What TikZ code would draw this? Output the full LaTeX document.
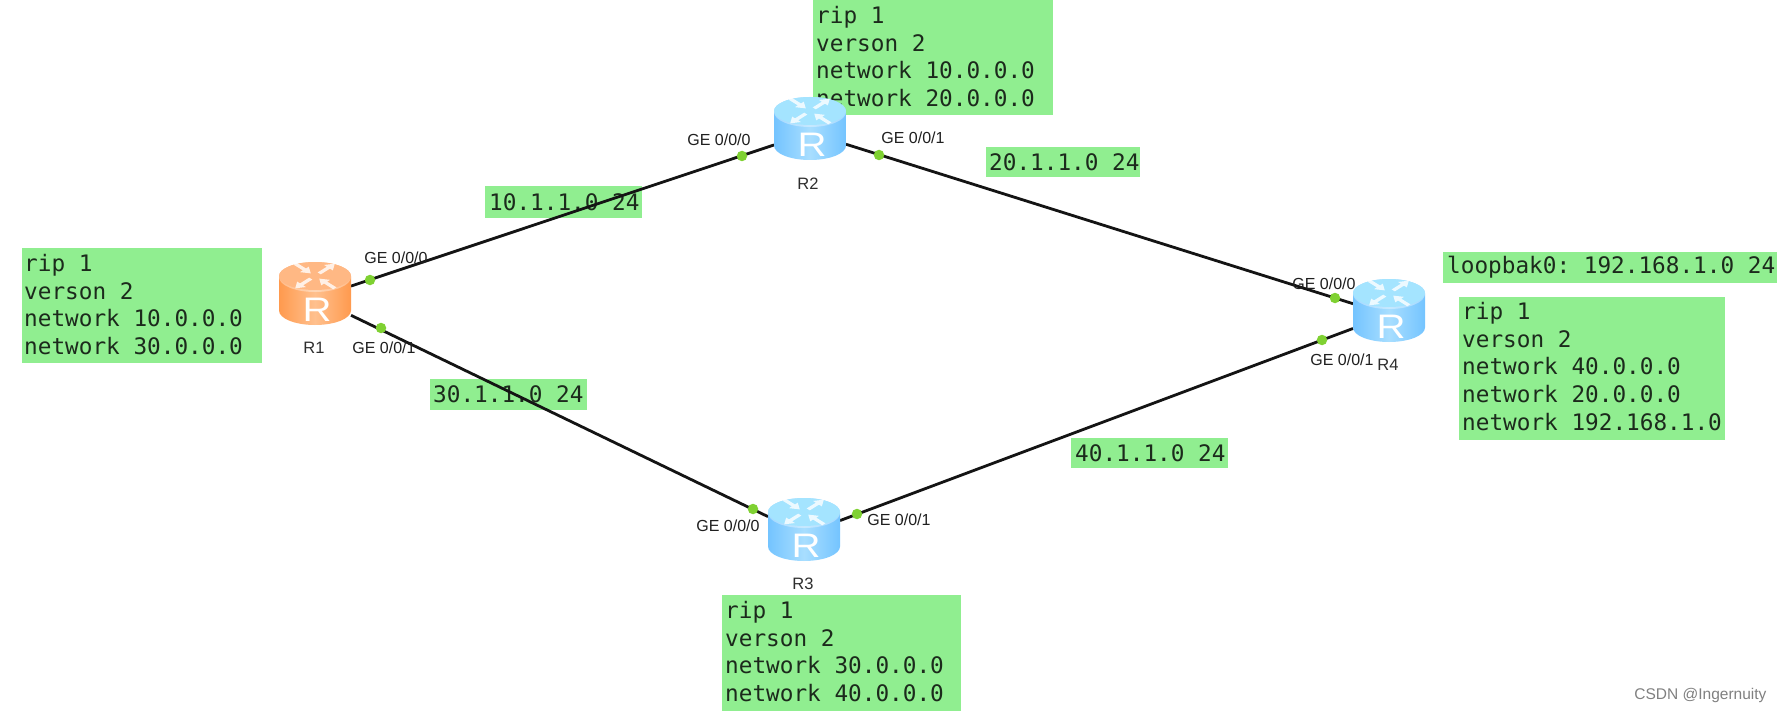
\documentclass[tikz,border=0pt]{standalone}
\usepackage{fontspec}
\setmainfont{Liberation Sans}
\setmonofont{DejaVu Sans Mono}
\definecolor{boxgreen}{HTML}{90EE90}
\definecolor{portgreen}{HTML}{7FD132}
\definecolor{inktext}{HTML}{1C2A1C}
\definecolor{blueedge}{HTML}{74C4FF}
\definecolor{bluemid}{HTML}{A8DEFF}
\definecolor{bluetop}{HTML}{A4E4FF}
\definecolor{orangeedge}{HTML}{FF9A4E}
\definecolor{orangemid}{HTML}{FFC08E}
\definecolor{orangetop}{HTML}{FFB884}
\tikzset{
  x=1pt,y=-1pt,
  monotext/.style={font=\fontsize{22.7}{27.65}\selectfont\ttfamily,text=inktext,align=left},
  routernode/.style={rectangle,minimum width=72pt,minimum height=72pt,inner sep=0pt,outer sep=0pt},
  link/.style={draw=black!92,line width=2.8pt},
  port/.style={circle,fill=portgreen,draw=none,minimum size=10.5pt,inner sep=0pt},
  portlabel/.style={font=\fontsize{16}{16}\selectfont,text=black!88},
  routername/.style={font=\fontsize{16.5}{16.5}\selectfont,text=black!82},
}
\newcommand{\routericon}[4]{% node name, edge, mid, top colour
  \begin{scope}[shift={(#1)}]
    \path[left color=#2,right color=#2,middle color=#3]
      (-36,-21.5) -- (-36,12.5) .. controls (-36,20.5) and (-20,27) .. (0,27)
      .. controls (20,27) and (36,20.5) .. (36,12.5) -- (36,-21.5)
      .. controls (36,-29.5) and (20,-36) .. (0,-36)
      .. controls (-20,-36) and (-36,-29.5) .. (-36,-21.5) -- cycle;
    \path[fill=white,fill opacity=.35] (0,-21) ellipse[x radius=36,y radius=15];
    \path[fill=#4] (0,-22) ellipse[x radius=36,y radius=14];
    \begin{scope}[shift={(0,-22)},yscale=0.62,white,opacity=.8]
      \foreach \a/\f in {45/1,135/-1,225/1,315/-1}{
        \begin{scope}[rotate=\a,xshift=17pt,xscale=\f]
          \fill (-11,-2.2) -- (2,-2.2) -- (2,-6.2) -- (11,0) -- (2,6.2) -- (2,2.2) -- (-11,2.2) -- cycle;
        \end{scope}
      }
    \end{scope}
    \node[text=white,font=\fontsize{34}{34}\selectfont,xscale=1.18] at (2,11.5) {R};
  \end{scope}
}
\begin{document}
\begin{tikzpicture}
\useasboundingbox (0,0) rectangle (1783,714);
\fill[white] (0,0) rectangle (1783,714);

% routers (logical nodes, at the centre of the links)
\node[routernode] (R1) at (315,298) {};
\node[routernode] (R2) at (810,133) {};
\node[routernode] (R3) at (804,534) {};
\node[routernode] (R4) at (1389,315) {};

% configuration boxes
\fill[boxgreen] (22,248) rectangle (262,363);
\node[monotext,anchor=north west,inner sep=0pt] (cfgR1) at (24,254) {rip 1\\verson 2\\network 10.0.0.0\\network 30.0.0.0};
\fill[boxgreen] (813,0) rectangle (1053,115);
\node[monotext,anchor=north west,inner sep=0pt] (cfgR2) at (816,6) {rip 1\\verson 2\\network 10.0.0.0\\network 20.0.0.0};
\fill[boxgreen] (722,595) rectangle (961,711);
\node[monotext,anchor=north west,inner sep=0pt] (cfgR3) at (725,601) {rip 1\\verson 2\\network 30.0.0.0\\network 40.0.0.0};
\fill[boxgreen] (1459,297) rectangle (1725,440);
\node[monotext,anchor=north west,inner sep=0pt] (cfgR4) at (1462,302) {rip 1\\verson 2\\network 40.0.0.0\\network 20.0.0.0\\network 192.168.1.0};
\fill[boxgreen] (1443,252) rectangle (1777,283);
\node[monotext,anchor=west,inner sep=0pt] (loop) at (1447,267) {loopbak0: 192.168.1.0 24};

% subnet labels
\fill[boxgreen] (485,186) rectangle (642,218);
\node[monotext,anchor=west,inner sep=0pt] (n10) at (489,202) {10.1.1.0 24};
\fill[boxgreen] (986,147) rectangle (1140,177);
\node[monotext,anchor=west,inner sep=0pt] (n20) at (989,162) {20.1.1.0 24};
\fill[boxgreen] (430,379) rectangle (587,410);
\node[monotext,anchor=west,inner sep=0pt] (n30) at (433,394) {30.1.1.0 24};
\fill[boxgreen] (1071,438) rectangle (1228,468);
\node[monotext,anchor=west,inner sep=0pt] (n40) at (1075,453) {40.1.1.0 24};

% links
\draw[link] (R1) -- (R2);
\draw[link] (R2) -- (R4);
\draw[link] (R1) -- (R3);
\draw[link] (R3) -- (R4);

% router icons
\routericon{R1}{orangeedge}{orangemid}{orangetop}
\routericon{R2}{blueedge}{bluemid}{bluetop}
\routericon{R3}{blueedge}{bluemid}{bluetop}
\routericon{R4}{blueedge}{bluemid}{bluetop}

% ports
\foreach \n/\p in {p1a/{370,280},p1b/{381,328},p2a/{742,156},p2b/{879,155},p3a/{753,509},p3b/{857,514},p4a/{1335,298},p4b/{1322,340}}{
  \node[port] (\n) at (\p) {};
}

% port labels
\node[portlabel] (l1a) at (396,258) {GE 0/0/0};
\node[portlabel] (l1b) at (384,348) {GE 0/0/1};
\node[portlabel] (l2a) at (719,140) {GE 0/0/0};
\node[portlabel] (l2b) at (913,138) {GE 0/0/1};
\node[portlabel] (l3a) at (728,526) {GE 0/0/0};
\node[portlabel] (l3b) at (899,520) {GE 0/0/1};
\node[portlabel] (l4a) at (1324,284) {GE 0/0/0};
\node[portlabel] (l4b) at (1342,360) {GE 0/0/1};

% router names
\node[routername] (t1) at (314,348) {R1};
\node[routername] (t2) at (808,184) {R2};
\node[routername] (t3) at (803,584) {R3};
\node[routername] (t4) at (1388,365) {R4};

\node[font=\fontsize{15.5}{15.5}\selectfont,text=black!50,anchor=east] (mark) at (1770,695) {CSDN @Ingernuity};
\end{tikzpicture}
\end{document}
